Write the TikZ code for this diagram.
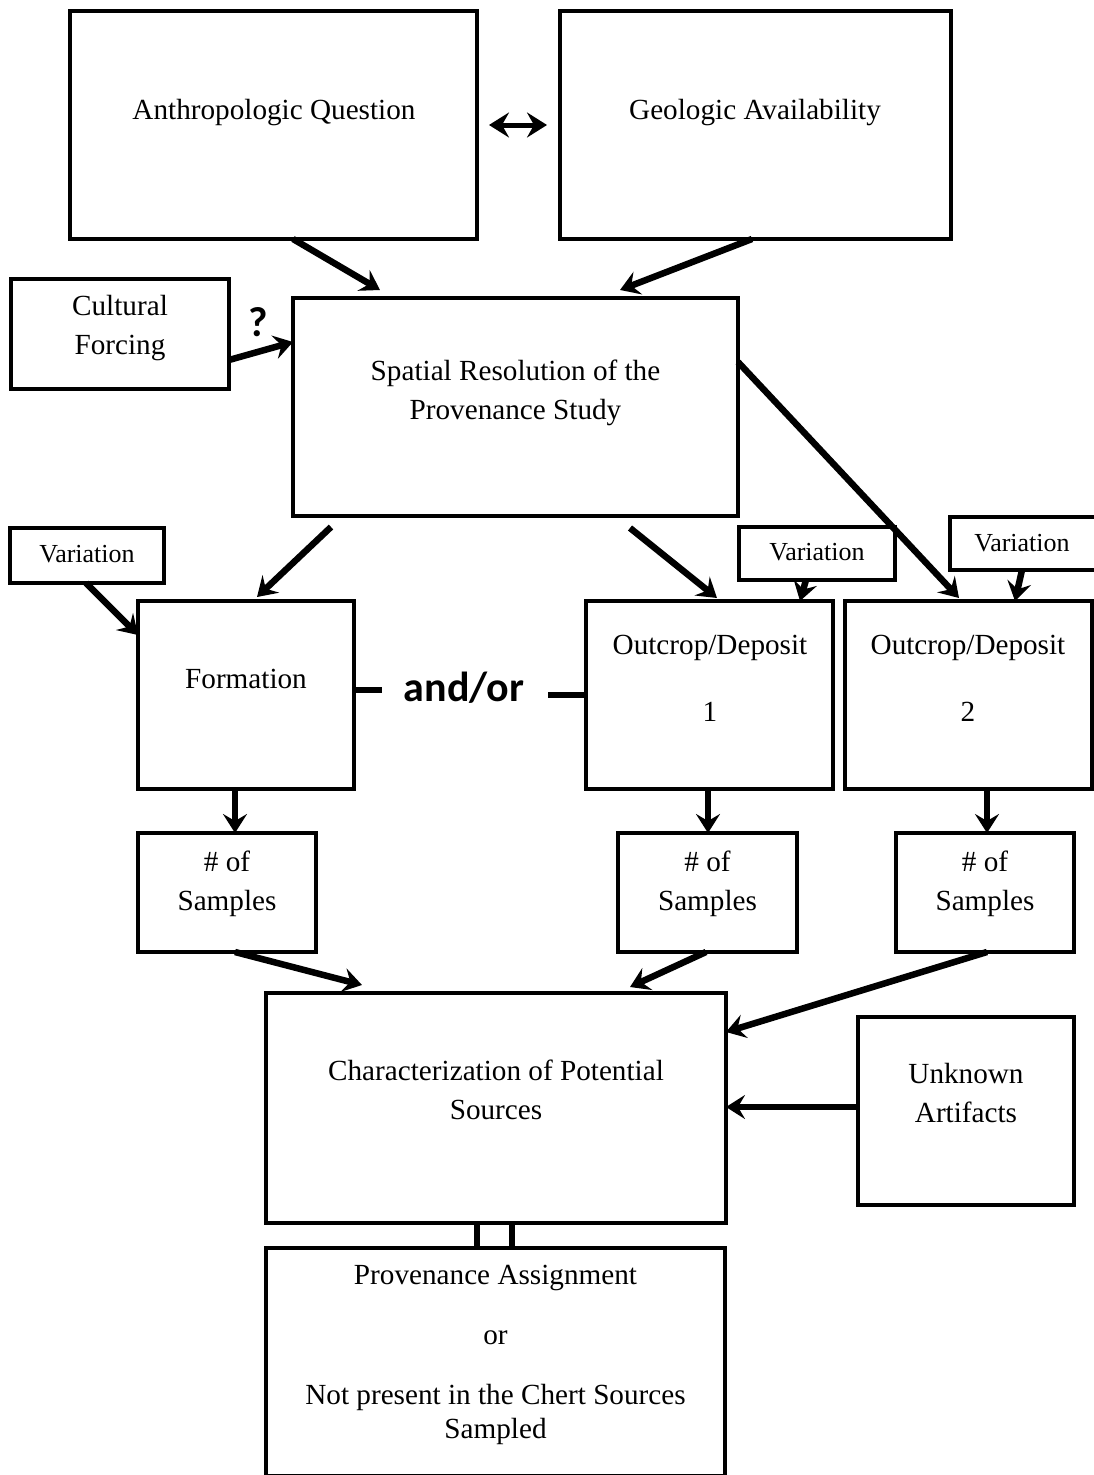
\documentclass[tikz,border=0pt]{standalone}
\usepackage{fontspec}
\setmainfont{Liberation Serif}
\newfontfamily\boldsans{Carlito}
\usetikzlibrary{arrows.meta,fit}
\tikzset{
	box/.style={draw, line width=4pt, inner sep=0pt, outer sep=0pt},
	txt/.style={inner sep=0pt, align=center, font=\fontsize{29.2}{39}\selectfont},
	smalltxt/.style={inner sep=0pt, font=\fontsize{26}{32}\selectfont},
	bigsans/.style={inner sep=0pt, font=\boldsans\bfseries\fontsize{42}{50}\selectfont},
	arr/.style={line width=6.5pt, -{Stealth[length=19pt, width=24pt, inset=7pt]}},
	dblarr/.style={line width=5pt, {Stealth[length=20pt, width=25pt, inset=7pt]}-{Stealth[length=20pt, width=25pt, inset=7pt]}},
	bar/.style={line width=6pt}
}

\begin{document}
\begin{tikzpicture}[x=1pt, y=-1pt]
			%%%%% START %%%%%
			\useasboundingbox (0,0) rectangle (1094,1475);
			
			\node[box, fit={(70,11) (477,239)}] (anthro) {};
			\node[box, fit={(560,11) (951,239)}] (geo) {};
			\node[box, fit={(11,279) (229,389)}] (cult) {};
			\node[box, fit={(293,298) (738,516)}] (spat) {};
			
			\node[txt] (anthrot) at (274,113) {Anthropologic Question};
			\node[txt] (geot) at (755,113) {Geologic Availability};
			\node[txt] (cultt) at (120,328) {Cultural\\Forcing};
			\node[bigsans] (qmark) at (258,322) {?};
			\node[txt] (spatt) at (515.5,392.5) {Spatial Resolution of the\\Provenance Study};
			
			\node[box, fit={(10,528) (164,583)}] (varL) {};
			\node[box, fit={(739,527) (895,580)}] (varM) {};
			\node[box, fit={(950,517) (1097,570)}] (varR) {};
			\node[smalltxt] (varLt) at (87,554) {Variation};
			\node[smalltxt] (varMt) at (817,552) {Variation};
			\node[smalltxt] (varRt) at (1022,543) {Variation};
			
			\node[box, fit={(138,601) (354,789)}] (form) {};
			\node[box, fit={(586,601) (833,789)}] (out1) {};
			\node[box, fit={(845,601) (1092,789)}] (out2) {};
			\node[txt] (formt) at (246,679) {Formation};
			\node[bigsans] (andor) at (464,688) {and/or};
			\node[txt] (out1t) at (710,678) {Outcrop/Deposit\\[28pt]1};
			\node[txt] (out2t) at (968,678) {Outcrop/Deposit\\[28pt]2};
			
			\node[box, fit={(138,833) (316,952)}] (samp1) {};
			\node[box, fit={(618,833) (797,952)}] (samp2) {};
			\node[box, fit={(896,833) (1074,952)}] (samp3) {};
			\node[txt] (samp1t) at (227,884) {\# of\\Samples};
			\node[txt] (samp2t) at (707.5,884) {\# of\\Samples};
			\node[txt] (samp3t) at (985,884) {\# of\\Samples};
			
			\node[box, fit={(266,993) (726,1223)}] (char) {};
			\node[box, fit={(858,1017) (1074,1205)}] (unk) {};
			\node[box, fit={(266,1248) (725,1476)}] (prov) {};
			\node[txt] (chart) at (496,1090) {Characterization of Potential\\Sources};
			\node[txt] (unkt) at (966,1093) {Unknown\\Artifacts};
			\node[txt] (provt) at (495.5,1355) {Provenance Assignment\\[21pt]or\\[21pt]Not present in the Chert Sources\\[-5pt]Sampled};
			
			\draw[dblarr] ([xshift=12pt]anthro.east) -- ([xshift=-13pt]geo.west);
			\draw[arr] (anthro.south -| 293,0) -- ([yshift=8pt]spat.north -| 380,0);
			\draw[arr] (geo.south -| 752,0) -- ([yshift=8pt]spat.north -| 620,0);
			\draw[arr] (cult.east |- 0,360) -- (spat.west |- 0,342);
			
			\draw[arr] ([yshift=-11pt]spat.south -| 331,0) -- ([yshift=4pt]form.north -| 257,0);
			\draw[arr] (varL.south -| 86,0) -- (form.west |- 0,635);
			\draw[arr] ([yshift=-12pt]spat.south -| 630,0) -- ([yshift=3pt]out1.north -| 717,0);
			\draw[arr] (varM.south -| 806,0) -- (out1.north -| 800,0);
			\draw[arr] (spat.east |- 0,362) -- ([yshift=3pt]out2.north -| 959,0);
			\draw[arr] (varR.south -| 1022,0) -- (out2.north -| 1015,0);
			
			\draw[bar] (form.east |- 0,690) -- ([xshift=-22pt]andor.west |- 0,690);
			\draw[bar] ([xshift=24pt]andor.east |- 0,695) -- (out1.west |- 0,695);
			
			\draw[arr] (form.south -| 235,0) -- (samp1.north -| 235,0);
			\draw[arr] (out1.south -| 708,0) -- (samp2.north -| 708,0);
			\draw[arr] (out2.south -| 987,0) -- (samp3.north -| 987,0);
			
			\draw[arr] (samp1.south -| 235,0) -- ([yshift=8pt]char.north -| 362,0);
			\draw[arr] (samp2.south -| 706,0) -- ([yshift=6pt]char.north -| 630,0);
			\draw[arr] (samp3.south -| 987,0) -- (char.east |- 0,1032);
			\draw[arr] (unk.west |- 0,1107) -- (char.east |- 0,1107);
			
			\draw[bar] (char.south -| 477,0) -- (prov.north -| 477,0);
			\draw[bar] (char.south -| 512,0) -- (prov.north -| 512,0);
			%%%%% END %%%%%
\end{tikzpicture}
\end{document}
